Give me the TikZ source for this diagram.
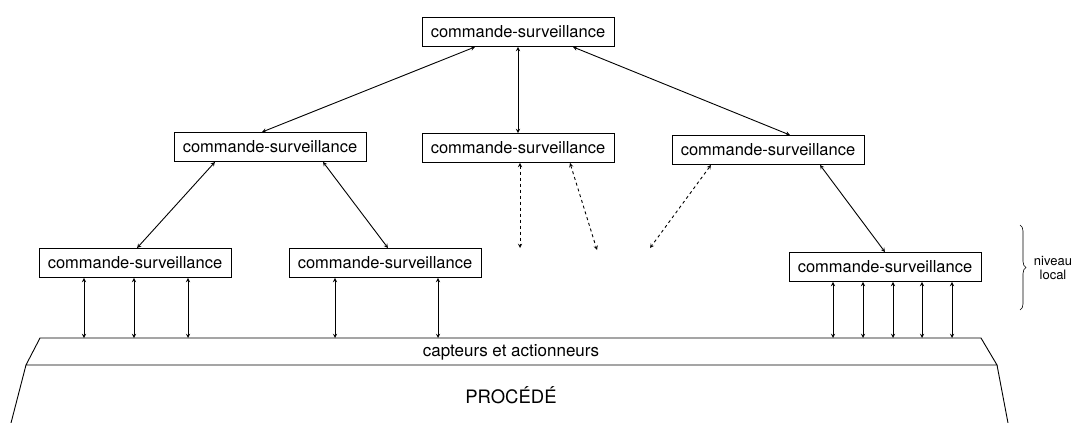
\documentclass[tikz,border=0pt]{standalone}
\usepackage{fontspec}
\setmainfont{TeX Gyre Heros}
\usetikzlibrary{decorations.pathreplacing}
\tikzset{
  cs/.style={draw,minimum width=192pt,minimum height=29pt,inner sep=0pt,font=\fontsize{16.5}{19}\selectfont},
  dots/.style={dashed,dash pattern=on 3pt off 3pt}
}
\begin{document}
\begin{tikzpicture}[x=1pt,y=-1pt,line width=.9pt,>=stealth]
\useasboundingbox (0,0) rectangle (1077,423);
% les niveaux de commande
\node[cs] (top) at (518,32) {commande-surveillance};
\node[cs] (left2) at (270,147) {commande-surveillance};
\node[cs] (mid2) at (518,148) {commande-surveillance};
\node[cs] (right2) at (768,150) {commande-surveillance};
\node[cs] (left3) at (135,263) {commande-surveillance};
\node[cs] (mid3) at (385,263) {commande-surveillance};
\node[cs] (right3) at (885,267) {commande-surveillance};
\draw[<->] ([xshift=-43]top.south) -- ([xshift=-8]left2.north);
\draw[<->] (top.south) -- (mid2.north);
\draw[<->] ([xshift=55]top.south) -- ([xshift=22]right2.north);
\draw[<->] ([xshift=-55]left2.south) -- ([xshift=2]left3.north);
\draw[<->] ([xshift=53]left2.south) -- ([xshift=3]mid3.north);
\draw[<->] ([xshift=52]right2.south) -- (right3.north);
% vers d'autres niveaux
\coordinate (d1) at (520,248);
\coordinate (d2) at (597,250);
\coordinate (d3) at (650,248);
\draw[<->,dots] ([xshift=2]mid2.south) -- (d1);
\draw[<->,dots] ([xshift=52]mid2.south) -- (d2);
\draw[<->,dots] ([xshift=-57]right2.south) -- (d3);
% capteurs et procede
\draw (26,365) -- (40,338) -- (981,338) -- (997,365) -- cycle;
\draw (26,365) -- (11,423);
\draw (997,365) -- (1008,423);
\node[font=\fontsize{17}{20}\selectfont] (capt) at (511,352) {capteurs et actionneurs};
\node[font=\fontsize{18.5}{22}\selectfont] (proc) at (511,395) {PROCÉDÉ};
\foreach \x in {84,134,188} \draw[<->] (left3.south -| \x,0) -- (\x,338);
\foreach \x in {335,438} \draw[<->] (mid3.south -| \x,0) -- (\x,338);
\foreach \x in {833,863,893,922,952} \draw[<->] (right3.south -| \x,0) -- (\x,338);
% niveau local
\draw[line width=.6pt,decorate,decoration={brace,amplitude=6pt}] (1020,225) -- (1020,310);
\node[align=center,font=\fontsize{13}{14}\selectfont] (loc) at (1053,268) {niveau\\local};
\end{tikzpicture}
\end{document}
